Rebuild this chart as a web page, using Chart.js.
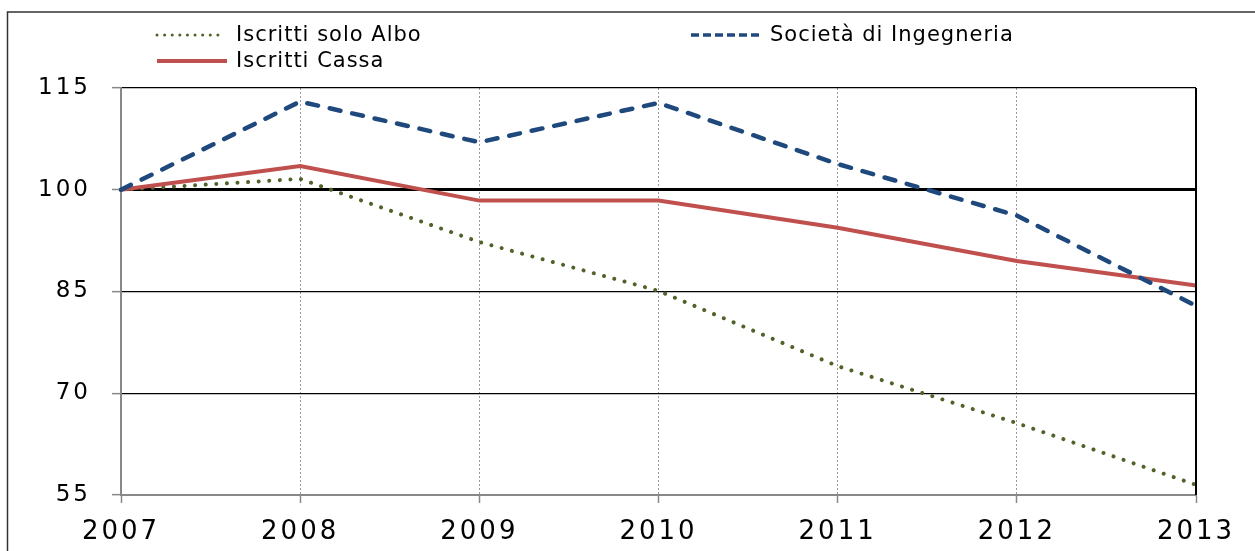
<!DOCTYPE html>
<html><head><meta charset="utf-8">
<script src="https://cdn.jsdelivr.net/npm/chart.js@4.4.1/dist/chart.umd.min.js"></script>
<style>html,body{margin:0;padding:0;background:#fff;}#wrap{position:relative;width:1255px;height:551px;overflow:hidden}</style>
</head><body><div id="wrap"><canvas id="c" width="1255" height="551"></canvas></div>
<script>
const years = ['2007','2008','2009','2010','2011','2012','2013'];
const albo = [100, 101.6, 92.3, 85.1, 74.0, 65.6, 56.5];
const societa = [100, 113.0, 107.0, 112.8, 103.8, 96.2, 82.9];
const cassa = [100, 103.5, 98.4, 98.4, 94.4, 89.5, 85.9];
const yTicks = [55, 70, 85, 100, 115];
const names = ['Iscritti solo Albo', 'Società di Ingegneria', 'Iscritti Cassa'];
const colors = ['#4F6228', '#1F497D', '#C0504D'];

const FONT = '"DejaVu Sans", sans-serif';
const LS = '3px';

const deco = {
  id: 'deco',
  beforeLayout(chart) { chart.ctx.letterSpacing = LS; },
  beforeDraw(chart) {
    const ctx = chart.ctx;
    ctx.save();
    ctx.letterSpacing = '0px';
    ctx.fillStyle = '#fff';
    ctx.fillRect(0, 0, chart.width, chart.height);
    ctx.strokeStyle = '#333';
    ctx.lineWidth = 1.5;
    ctx.strokeRect(7.5, 12, 1400, 700);
    ctx.restore();
    ctx.letterSpacing = LS;
  },
  afterDatasetsDraw(chart) {
    const ctx = chart.ctx, a = chart.chartArea;
    ctx.save();
    ctx.strokeStyle = '#000';
    ctx.lineWidth = 2;
    ctx.beginPath();
    ctx.moveTo(a.right, a.top);
    ctx.lineTo(a.right, a.bottom);
    ctx.stroke();
    ctx.restore();
  },
  afterDraw(chart) {
    const ctx = chart.ctx;
    ctx.save();
    ctx.letterSpacing = '1px';
    ctx.font = '21px ' + FONT;
    ctx.textBaseline = 'middle';
    ctx.textAlign = 'left';
    const items = [
      {i: 0, x1: 157, x2: 225, y: 35, tx: 236},
      {i: 1, x1: 691, x2: 763, y: 35, tx: 770},
      {i: 2, x1: 157, x2: 227, y: 61, tx: 236}
    ];
    items.forEach(it => {
      ctx.save();
      ctx.strokeStyle = colors[it.i];
      if (it.i === 0) { ctx.lineWidth = 3; ctx.lineCap = 'round'; ctx.setLineDash([0.01, 7.6]); }
      else if (it.i === 1) { ctx.lineWidth = 3.5; ctx.lineCap = 'butt'; ctx.setLineDash([8, 4]); }
      else { ctx.lineWidth = 4; ctx.lineCap = 'butt'; ctx.setLineDash([]); }
      ctx.beginPath();
      ctx.moveTo(it.x1, it.y);
      ctx.lineTo(it.x2, it.y);
      ctx.stroke();
      ctx.restore();
      ctx.fillStyle = '#000';
      ctx.fillText(names[it.i], it.tx, it.y + 1);
    });
    ctx.restore();
  }
};

new Chart(document.getElementById('c'), {
  type: 'line',
  data: {
    labels: years,
    datasets: [
      {label: names[0], data: albo, borderColor: colors[0], borderWidth: 4, borderDash: [0.01, 10.6], borderCapStyle: 'round', pointRadius: 0, tension: 0, fill: false, order: 3},
      {label: names[1], data: societa, borderColor: colors[1], borderWidth: 4.5, borderDash: [11, 12], borderCapStyle: 'round', pointRadius: 0, tension: 0, fill: false, order: 1},
      {label: names[2], data: cassa, borderColor: colors[2], borderWidth: 4, pointRadius: 0, tension: 0, fill: false, order: 2}
    ]
  },
  options: {
    responsive: false,
    animation: false,
    layout: {padding: {top: 88, right: 59, left: 0, bottom: 0}},
    plugins: {legend: {display: false}, tooltip: {enabled: false}},
    scales: {
      x: {
        offset: false,
        grid: {
          color: ctx => (ctx.index === 0 || ctx.index === years.length - 1) ? 'rgba(0,0,0,0)' : '#999',
          lineWidth: 1,
          tickColor: '#888',
          tickLength: 8,
          tickWidth: 1.5
        },
        border: {display: true, color: '#888', width: 2, dash: [2, 2]},
        ticks: {color: '#000', font: {family: FONT, size: 26}, padding: 14, maxRotation: 0, autoSkip: false},
        afterFit: s => { s.height = 56; }
      },
      y: {
        min: 55, max: 115,
        afterBuildTicks: s => { s.ticks = yTicks.map(v => ({value: v})); },
        grid: {
          color: ctx => (ctx.tick && ctx.tick.value === 55) ? 'rgba(0,0,0,0)' : '#000',
          lineWidth: ctx => (ctx.tick && ctx.tick.value === 100) ? 3 : 1.3,
          tickColor: '#888',
          tickLength: 9,
          tickWidth: 1.5
        },
        border: {display: true, color: '#888', width: 2},
        ticks: {color: '#000', font: {family: FONT, size: 23}, padding: 21},
        afterFit: s => { s.width = 121; }
      }
    }
  },
  plugins: [deco]
});
</script></body></html>
